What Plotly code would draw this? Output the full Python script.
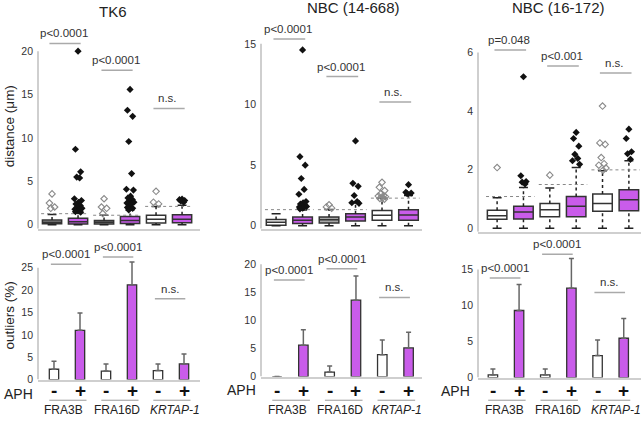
import plotly.graph_objects as go

W, H = 643, 422

# ---------------- data ----------------
panels = ["TK6", "NBC (14-668)", "NBC (16-172)"]
loci = ["FRA3B", "FRA16D", "<i>KRTAP-1</i>"]
aph = ["-", "+", "-", "+", "-", "+"]
groups = [1, 2, 3, 4, 5, 6]

# distance box stats (µm), order: FRA3B-, FRA3B+, FRA16D-, FRA16D+, KRTAP-1-, KRTAP-1+
tk6_q1 = [0.12, 0.10, 0.10, 0.15, 0.20, 0.25]
tk6_med = [0.30, 0.35, 0.30, 0.50, 0.65, 0.65]
tk6_q3 = [0.55, 0.75, 0.50, 0.95, 1.10, 1.15]
tk6_lo = [0, 0, 0, 0, 0, 0]
tk6_hi = [1.20, 1.35, 1.10, 1.70, 2.10, 2.25]
tk6_out = [
    [3.56, 2.5, 2.05, 1.9],
    [20.0, 8.7, 6.1, 5.5, 5.4, 3.0, 2.8, 2.6, 2.4, 2.2, 2.0, 1.9, 1.8, 1.7, 1.6, 1.5, 1.45],
    [3.0, 2.05, 1.9, 1.3],
    [15.6, 13.2, 12.5, 9.6, 5.9, 4.1, 4.0, 3.3, 3.1, 2.9, 2.7, 2.6, 2.5, 2.4, 2.2, 2.0, 1.9, 1.7],
    [3.86, 2.6, 2.4],
    [2.95, 2.9, 2.8, 2.75, 2.6],
]
tk6_thr = [1.28, 1.10, 2.12]

n14_q1 = [0.05, 0.19, 0.24, 0.40, 0.46, 0.46]
n14_med = [0.30, 0.45, 0.50, 0.72, 0.86, 0.90]
n14_q3 = [0.51, 0.73, 0.73, 1.00, 1.27, 1.33]
n14_lo = [0, 0, 0, 0, 0, 0]
n14_hi = [1.00, 1.30, 1.35, 1.87, 2.28, 2.50]
n14_out = [
    [],
    [14.5, 5.7, 5.0, 3.9, 3.0, 2.6, 2.0, 1.9, 1.8, 1.7, 1.65, 1.6, 1.55, 1.5, 1.45, 1.4],
    [1.73, 1.55, 1.45],
    [7.0, 3.5, 3.25, 2.5, 2.0, 1.9, 1.85],
    [3.58, 3.17, 2.9, 2.63, 2.5, 2.45, 2.4, 2.3, 2.25, 2.2],
    [3.39, 2.76, 2.7, 2.65],
]
n14_thr = [1.33, 1.33, 2.28]

n16_q1 = [0.30, 0.31, 0.39, 0.39, 0.58, 0.59]
n16_med = [0.42, 0.55, 0.63, 0.75, 0.84, 0.97]
n16_q3 = [0.61, 0.75, 0.84, 1.08, 1.17, 1.31]
n16_lo = [0, 0, 0, 0, 0, 0]
n16_hi = [1.04, 1.39, 1.37, 2.07, 1.96, 2.30]
n16_out = [
    [2.07],
    [5.17, 1.79, 1.59, 1.57, 1.51],
    [1.81],
    [3.27, 3.06, 2.8, 2.52, 2.38, 2.3, 2.18],
    [4.17, 2.91, 2.86, 2.41, 2.2, 2.15, 2.05, 1.98],
    [3.38, 3.06, 2.61, 2.54, 2.35],
]
n16_thr = [1.08, 1.49, 1.99]

# outliers (%) mean and upper error
tk6_pct = [2.3, 11.0, 1.9, 21.2, 2.0, 3.5]
tk6_err = [1.8, 3.9, 1.6, 5.1, 1.5, 2.2]
n14_pct = [0.0, 5.6, 0.8, 13.6, 3.9, 5.1]
n14_err = [0.0, 2.75, 1.1, 4.3, 2.6, 2.8]
n16_pct = [0.36, 9.3, 0.36, 12.4, 3.05, 5.45]
n16_err = [0.84, 3.6, 0.84, 4.1, 2.15, 2.75]

# significance labels and bracket levels
top_sig = [["p&lt;0.0001", "p&lt;0.0001", "n.s."],
           ["p&lt;0.0001", "p&lt;0.0001", "n.s."],
           ["p=0.048", "p&lt;0.001", "n.s."]]
top_sig_y = [[20.9, 17.8, 13.4], [15.4, 12.3, 10.2], [6.08, 5.54, 5.30]]
bot_sig = [["p&lt;0.0001", "p&lt;0.0001", "n.s."]] * 3
bot_sig_y = [[25.8, 27.4, 18.1], [17.2, 19.2, 14.1], [13.8, 17.1, 11.8]]

top_ticks = [[0, 5, 10, 15, 20], [0, 5, 10, 15], [0, 2, 4, 6]]
bot_ticks = [[0, 5, 10, 15, 20, 25], [0, 5, 10, 15, 20], [0, 5, 10, 15]]

box_stats = [
    (tk6_q1, tk6_med, tk6_q3, tk6_lo, tk6_hi, tk6_out, tk6_thr),
    (n14_q1, n14_med, n14_q3, n14_lo, n14_hi, n14_out, n14_thr),
    (n16_q1, n16_med, n16_q3, n16_lo, n16_hi, n16_out, n16_thr),
]
bar_stats = [(tk6_pct, tk6_err), (n14_pct, n14_err), (n16_pct, n16_err)]

# ---------------- styling / geometry (pixels) ----------------
PURPLE = "#C95CEA"
GREYBOX = "#a6a6a6"
EDGE = "#333333"
AXC = "#cfcfcf"
FONT = "Liberation Sans, Arial, sans-serif"
box_fills = [
    [GREYBOX, PURPLE, GREYBOX, PURPLE, "white", PURPLE],
    ["white", PURPLE, GREYBOX, PURPLE, "white", PURPLE],
    ["white", PURPLE, "white", PURPLE, "white", PURPLE],
]

top_xpx = [(38, 200), (261, 422), (478, 641)]
top_xrng = [(0.46, 6.69), (0.43, 6.51), (0.275, 6.46)]
top_ypx = [(22, 232), (20, 232), (33, 235)]
top_yrng = [(-0.45, 23.4), (-0.24, 16.99), (-0.12, 6.68)]

bot_xpx = [(38, 200), (261, 422), (478, 641)]
bot_xrng = [(0.385, 6.615), (0.39, 6.51), (0.43, 6.66)]
bot_ypx = [(244, 385), (255, 382), (244, 383)]
bot_yrng = [(0, 31.1), (0, 22.3), (0, 19.0)]

title_px = [(113, 12), (353, 8), (558, 8)]
aph_px = [(18, 400), (241, 396), (455, 397)]
locus_x = [[1.37, 3.42, 5.65], [1.38, 3.4, 5.56], [1.44, 3.5, 5.72]]


def px2x(p):
    return p / W


def px2y(p):
    return 1 - p / H


def axid(n):
    s = "" if n == 1 else str(n)
    return "x" + s, "y" + s, "xaxis" + s, "yaxis" + s


fig = go.Figure()
layout = dict(
    width=W, height=H, margin=dict(l=0, r=0, t=0, b=0),
    paper_bgcolor="white", plot_bgcolor="white", showlegend=False,
    boxmode="overlay", barmode="overlay",
    font=dict(family=FONT, color="#333", size=11),
)
shapes, annotations = [], []

jit = [0, -0.1, 0.1, -0.05, 0.06, -0.14, 0.13, 0.02, -0.08, 0.09, -0.02, 0.15, -0.12, 0.04]

for p in range(3):
    # ---------- top: boxes ----------
    xa, ya, xk, yk = axid(p + 1)
    q1, med, q3, lo, hi, outs, thr = box_stats[p]
    for i, g in enumerate(groups):
        fig.add_trace(go.Box(
            x=[g], q1=[q1[i]], median=[med[i]], q3=[q3[i]],
            lowerfence=[q1[i]], upperfence=[q3[i]],
            width=0.74, whiskerwidth=0, fillcolor=box_fills[p][i],
            line=dict(color=EDGE, width=1.5), boxpoints=False,
            xaxis=xa, yaxis=ya, hoverinfo="skip"))
    # whiskers (dotted) and caps
    wx, wy, cx, cy = [], [], [], []
    for i, g in enumerate(groups):
        wx += [g, g, None, g, g, None]
        wy += [q3[i], hi[i], None, lo[i], q1[i], None]
        cx += [g - 0.17, g + 0.17, None, g - 0.17, g + 0.17, None]
        cy += [hi[i], hi[i], None, lo[i], lo[i], None]
    fig.add_trace(go.Scatter(x=wx, y=wy, mode="lines", line=dict(color="#222", width=1.5, dash="dot"),
                             xaxis=xa, yaxis=ya, hoverinfo="skip"))
    fig.add_trace(go.Scatter(x=cx, y=cy, mode="lines", line=dict(color="#222", width=1.5),
                             xaxis=xa, yaxis=ya, hoverinfo="skip"))
    # thresholds
    tx, ty = [], []
    for k in range(3):
        tx += [groups[2 * k] - 0.42, groups[2 * k + 1] + 0.42, None]
        ty += [thr[k], thr[k], None]
    fig.add_trace(go.Scatter(x=tx, y=ty, mode="lines", line=dict(color="#888", width=1, dash="dot"),
                             xaxis=xa, yaxis=ya, hoverinfo="skip"))
    # outliers
    for i, g in enumerate(groups):
        vals = outs[i]
        if not vals:
            continue
        xs = [g + jit[j % len(jit)] for j in range(len(vals))]
        if aph[i] == "-":
            mk = dict(symbol="diamond-open", size=5, color="#8a8a8a", line=dict(width=1.1, color="#8a8a8a"))
        else:
            mk = dict(symbol="diamond", size=5.5, color="#111")
        fig.add_trace(go.Scatter(x=xs, y=vals, mode="markers", marker=mk, cliponaxis=False,
                                 xaxis=xa, yaxis=ya, hoverinfo="skip"))
    # significance
    for k in range(3):
        x0, x1 = groups[2 * k] - 0.1, groups[2 * k + 1] + 0.1
        yv = top_sig_y[p][k]
        shapes.append(dict(type="line", xref=xa, yref=ya, x0=x0, x1=x1, y0=yv, y1=yv,
                           line=dict(color="#aaa", width=1.5)))
        annotations.append(dict(xref=xa, yref=ya, x=(x0 + x1) / 2 - 0.05, y=yv, yshift=10,
                                text=top_sig[p][k], showarrow=False,
                                font=dict(size=11.5, color="#333")))
    # y-axis line 0..top tick
    shapes.append(dict(type="line", xref=f"{xa} domain", yref=ya, x0=0, x1=0,
                       y0=top_yrng[p][0], y1=top_ticks[p][-1], line=dict(color=AXC, width=2)))
    layout[xk] = dict(domain=[px2x(top_xpx[p][0]), px2x(top_xpx[p][1])],
                      range=list(top_xrng[p]), anchor=ya, showgrid=False, zeroline=False,
                      showticklabels=False, ticks="", showline=True, linecolor=AXC, linewidth=1.5)
    layout[yk] = dict(domain=[px2y(top_ypx[p][1]), px2y(top_ypx[p][0])],
                      range=list(top_yrng[p]), anchor=xa, showgrid=False, zeroline=False,
                      tickvals=top_ticks[p], ticks="", showline=False,
                      tickfont=dict(size=10.5, color="#333"), ticklabelstandoff=4)
    annotations.append(dict(xref="paper", yref="paper", x=px2x(title_px[p][0]), y=px2y(title_px[p][1]),
                            text=panels[p], showarrow=False, xanchor="center", yanchor="middle",
                            font=dict(size=15, color="#222")))

    # ---------- bottom: bars ----------
    xa, ya, xk, yk = axid(p + 4)
    pct, err = bar_stats[p]
    for sign, idxs, fill in (("-", [0, 2, 4], "white"), ("+", [1, 3, 5], PURPLE)):
        fig.add_trace(go.Bar(
            x=[groups[i] for i in idxs], y=[pct[i] for i in idxs], width=0.36,
            marker=dict(color=fill, line=dict(color=EDGE, width=1.3)),
            error_y=dict(type="data", symmetric=False, array=[err[i] for i in idxs],
                         arrayminus=[0] * 3, color="#666", thickness=1.5, width=2.5),
            xaxis=xa, yaxis=ya, hoverinfo="skip"))
    for k in range(3):
        x0, x1 = groups[2 * k] - 0.12, groups[2 * k + 1] + 0.05
        yv = bot_sig_y[p][k]
        shapes.append(dict(type="line", xref=xa, yref=ya, x0=x0, x1=x1, y0=yv, y1=yv,
                           line=dict(color="#aaa", width=1.5)))
        annotations.append(dict(xref=xa, yref=ya, x=(x0 + x1) / 2, y=yv, yshift=10,
                                text=bot_sig[p][k], showarrow=False,
                                font=dict(size=11.5, color="#333")))
        # underline of locus pair
        shapes.append(dict(type="line", xref=xa, yref="paper",
                           x0=groups[2 * k] - 0.18, x1=groups[2 * k + 1] + 0.25,
                           y0=px2y(406), y1=px2y(406), line=dict(color="#999", width=1)))
        annotations.append(dict(xref=xa, yref="paper", x=locus_x[p][k], y=px2y(416),
                                text=loci[k], showarrow=False, xanchor="center", yanchor="middle",
                                font=dict(size=12, color="#222")))
    # APH -/+ labels
    for i, g in enumerate(groups):
        annotations.append(dict(xref=xa, yref="paper", x=g, y=px2y(396), text=aph[i],
                                showarrow=False, xanchor="center", yanchor="middle",
                                font=dict(size=19, color="#111", weight="bold")))
    shapes.append(dict(type="line", xref=f"{xa} domain", yref=ya, x0=0, x1=0,
                       y0=0, y1=bot_ticks[p][-1], line=dict(color=AXC, width=2)))
    layout[xk] = dict(domain=[px2x(bot_xpx[p][0]), px2x(bot_xpx[p][1])],
                      range=list(bot_xrng[p]), anchor=ya, showgrid=False, zeroline=False,
                      showticklabels=False, ticks="",
                      showline=True, linecolor=AXC, linewidth=1.5)
    layout[yk] = dict(domain=[px2y(bot_ypx[p][1]), px2y(bot_ypx[p][0])],
                      range=list(bot_yrng[p]), anchor=xa, showgrid=False, zeroline=False,
                      tickvals=bot_ticks[p], ticks="", showline=False,
                      tickfont=dict(size=10.5, color="#333"), ticklabelstandoff=4)
    annotations.append(dict(xref="paper", yref="paper", x=px2x(aph_px[p][0]), y=px2y(aph_px[p][1]),
                            text="APH", showarrow=False, xanchor="center", yanchor="middle",
                            font=dict(size=14, color="#222")))

annotations.append(dict(xref="paper", yref="paper", x=px2x(9), y=px2y(128), text="distance (μm)",
                        textangle=-90, showarrow=False, xanchor="center", yanchor="middle",
                        font=dict(size=13.5, color="#222")))
annotations.append(dict(xref="paper", yref="paper", x=px2x(9), y=px2y(320), text="outliers (%)",
                        textangle=-90, showarrow=False, xanchor="center", yanchor="middle",
                        font=dict(size=13.5, color="#222")))

layout["shapes"] = shapes
layout["annotations"] = annotations
fig.update_layout(**layout)
fig.write_html("out.html", config={"displayModeBar": False},
               post_script="document.body.style.margin='0';document.body.style.overflow='hidden';")
